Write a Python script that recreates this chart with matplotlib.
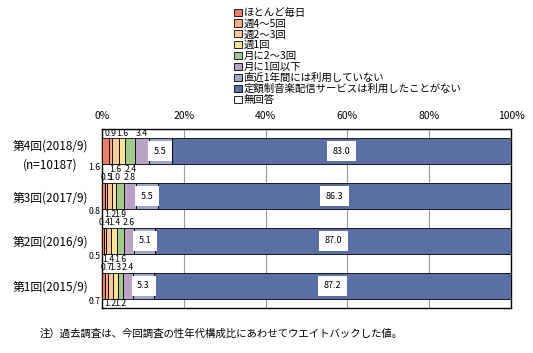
import matplotlib
matplotlib.use("Agg")
import matplotlib.pyplot as plt
import numpy as np

plt.rcParams['font.family'] = ['Noto Sans CJK JP', 'DejaVu Sans']

# survey rounds, top to bottom
rounds = ["第4回(2018/9)\n(n=10187)", "第3回(2017/9)", "第2回(2016/9)", "第1回(2015/9)"]
series = ["ほとんど毎日", "週4～5回", "週2～3回", "週1回", "月に2～3回",
          "月に1回以下", "直近1年間には利用していない",
          "定額制音楽配信サービスは利用したことがない", "無回答"]

maitsuki = [1.6, 0.8, 0.5, 0.7]
shu45 = [0.9, 0.5, 0.4, 0.7]
shu23 = [1.6, 1.2, 1.4, 1.2]
shu1 = [1.6, 1.0, 1.4, 1.3]
tsuki23 = [2.4, 1.9, 1.6, 1.2]
tsuki1 = [3.4, 2.8, 2.6, 2.4]
chokkin = [5.5, 5.5, 5.1, 5.3]
nashi = [83.0, 86.3, 87.0, 87.2]
mukaito = [0.0, 0.0, 0.0, 0.0]
values = [maitsuki, shu45, shu23, shu1, tsuki23, tsuki1, chokkin, nashi, mukaito]

colors = ["#E8806F", "#F4A98A", "#F9C99A", "#FCE29A", "#A2C98A",
          "#B8A2C6", "#9DA8CD", "#5A6FA3", "#FFFFFF"]

fig = plt.figure(figsize=(5.33, 3.53), dpi=100)
ax = fig.add_axes([0.1914, 0.1275, 0.7674, 0.507])

y = np.arange(len(rounds))
bar_h = 0.58
left = np.zeros(len(rounds))
for i, (name, vals) in enumerate(zip(series, values)):
    vals = np.array(vals)
    ax.barh(y, vals, left=left, height=bar_h, color=colors[i],
            edgecolor="black", linewidth=0.6, label=name, zorder=3)
    for j in range(len(rounds)):
        v = vals[j]
        cx = left[j] + v / 2
        if i == 0:
            ax.text(left[j] - 0.4, y[j] + bar_h / 2 + 0.06, f"{v:.1f}",
                    ha="right", va="center", fontsize=6.3, zorder=5)
        elif 1 <= i <= 5:
            if i % 2 == 1:
                ax.text(cx, y[j] - bar_h / 2 - 0.02, f"{v:.1f}", ha="center",
                        va="bottom", fontsize=6.3, zorder=5)
            else:
                ax.text(cx, y[j] + bar_h / 2 + 0.02, f"{v:.1f}", ha="center",
                        va="top", fontsize=6.3, zorder=5)
        elif i in (6, 7):
            ax.text(cx, y[j], f"{v:.1f}", ha="center", va="center", fontsize=6.5,
                    zorder=5, bbox=dict(facecolor="white", edgecolor="none", pad=4))
    left = left + vals

ax.set_xlim(0, 100)
ax.set_ylim(len(rounds) - 0.5, -0.5)
ax.set_yticks(y)
ax.set_yticklabels(rounds, fontsize=8.5, linespacing=1.6)
ax.get_yticklabels()[0].set_multialignment("center")
ax.set_xticks([0, 20, 40, 60, 80, 100])
ax.set_xticklabels(["0%", "20%", "40%", "60%", "80%", "100%"], fontsize=7.5)
ax.xaxis.tick_top()
ax.tick_params(axis="x", length=0, pad=6)
ax.tick_params(axis="y", length=0, pad=10)
ax.grid(axis="x", color="#999999", linewidth=0.8, zorder=0)
for s in ax.spines.values():
    s.set_color("black")
    s.set_linewidth(1.0)

handles, labels = ax.get_legend_handles_labels()
fig.legend(handles, labels, loc="upper left", bbox_to_anchor=(0.425, 1.0),
           frameon=False, fontsize=7.5, handlelength=0.7, handleheight=0.7,
           handletextpad=0.2, labelspacing=0.08, borderaxespad=0.35)

fig.text(0.075, 0.055, "注）過去調査は、今回調査の性年代構成比にあわせてウエイトバックした値。",
         fontsize=7.5, va="center")

fig.savefig("out.png", dpi=100)
